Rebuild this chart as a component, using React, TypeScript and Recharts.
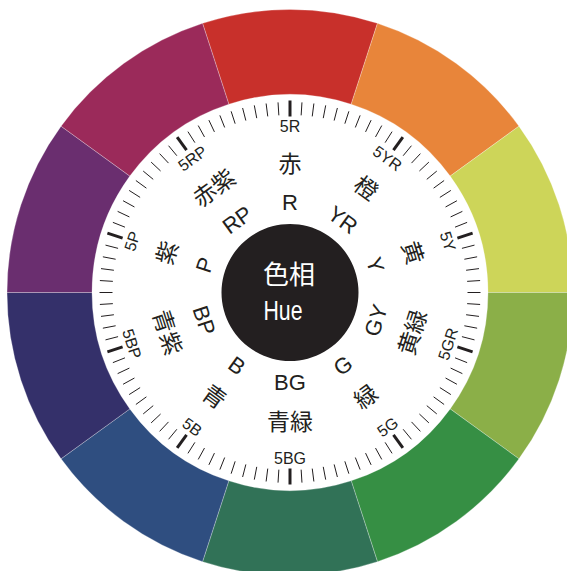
import React from 'react';
import { PieChart, Pie, Cell } from 'recharts';

// ---- data ----
const hueNames = ['R', 'YR', 'Y', 'GY', 'G', 'BG', 'B', 'BP', 'P', 'RP'];
const hueTickLabels = ['5R', '5YR', '5Y', '5GR', '5G', '5BG', '5B', '5BP', '5P', '5RP'];
const hueJapanese = ['赤', '橙', '黄', '黄緑', '緑', '青緑', '青', '青紫', '紫', '赤紫'];
const hueColors = ['#c8302b', '#e8853a', '#cdd559', '#8baf48', '#368f44', '#317257', '#2f4e80', '#34306a', '#6a2e6f', '#9b2a5a'];
const hueSteps = [1, 2, 3, 4, 5, 6, 7, 8, 9, 10];
const centerTitle = ['色相', 'Hue'];

const hueData = hueNames.map((name, i) => ({ name, value: 1, color: hueColors[i] }));
const tickData = hueNames.flatMap((name) => hueSteps.map((step) => ({ name: `${step}${name}`, step, value: 1 })));
const centerData = [{ name: centerTitle[1], value: 1 }];

// ---- layout ----
const W = 567;
const H = 571;
const CX = 290;
const CY = 292.5;
const INK = '#231f20';
const LATIN = '"Liberation Sans", Arial, Helvetica, sans-serif';
const CJK = '"Noto Sans CJK JP", "Noto Sans CJK SC", sans-serif';
const RAD = Math.PI / 180;

const polar = (cx: number, cy: number, r: number, angle: number) => ({
  x: cx + Math.cos(-angle * RAD) * r,
  y: cy + Math.sin(-angle * RAD) * r,
});

const textRotation = (midAngle: number) => {
  let t = (((90 - midAngle) % 360) + 360) % 360;
  if (t > 90 && t < 270) t -= 180;
  else if (t >= 270) t -= 360;
  return t;
};

const makeRingLabel = (radius: number, fontSize: number, family: string, texts: string[]) => (props: any) => {
  const { cx, cy, midAngle, index } = props;
  const p = polar(cx, cy, radius, midAngle);
  const rot = textRotation(midAngle);
  return (
    <text
      key={`l-${radius}-${index}`}
      x={p.x}
      y={p.y}
      dy="0.36em"
      transform={`rotate(${rot} ${p.x} ${p.y})`}
      textAnchor="middle"
      fontSize={fontSize}
      fontFamily={family}
      fill={INK}
    >
      {texts[index]}
    </text>
  );
};

const renderTick = (props: any) => {
  const { cx, cy, midAngle, index } = props;
  const major = tickData[index].step === 5;
  const a = polar(cx, cy, major ? 176 : 177.5, midAngle);
  const b = polar(cx, cy, major ? 192 : 190.5, midAngle);
  return (
    <line
      key={`t-${index}`}
      x1={a.x}
      y1={a.y}
      x2={b.x}
      y2={b.y}
      stroke={INK}
      strokeWidth={major ? 3 : 1}
    />
  );
};

const renderCenter = (props: any) => {
  const { cx, cy } = props;
  return (
    <g key="center">
      <text x={cx - 27} y={cy - 17.5} dy="0.36em" fontSize={26} fontFamily={CJK} fill="#ffffff">
        {centerTitle[0]}
      </text>
      <text
        x={cx - 26.5}
        y={cy + 27.5}
        fontSize={28.5}
        fontFamily={LATIN}
        fill="#ffffff"
        textLength={39}
        lengthAdjust="spacingAndGlyphs"
      >
        {centerTitle[1]}
      </text>
    </g>
  );
};

export default function App() {
  return (
    <div style={{ position: 'absolute', left: 0, top: 0, width: W, height: H, background: '#ffffff', overflow: 'hidden' }}>
      <PieChart width={W} height={H} margin={{ top: 0, right: 0, bottom: 0, left: 0 }}>
        <Pie
          data={hueData}
          dataKey="value"
          cx={CX}
          cy={CY}
          innerRadius={198}
          outerRadius={283}
          startAngle={108}
          endAngle={-252}
          stroke="rgba(255,255,255,0.45)"
          strokeWidth={0.6}
          isAnimationActive={false}
        >
          {hueData.map((d) => (
            <Cell key={d.name} fill={d.color} />
          ))}
        </Pie>
        <Pie
          data={tickData}
          dataKey="value"
          cx={CX}
          cy={CY}
          innerRadius={177}
          outerRadius={191}
          startAngle={106.2}
          endAngle={-253.8}
          fill="none"
          stroke="none"
          label={renderTick}
          labelLine={false}
          isAnimationActive={false}
        />
        <Pie
          data={hueData}
          dataKey="value"
          cx={CX}
          cy={CY}
          innerRadius={80}
          outerRadius={170}
          startAngle={108}
          endAngle={-252}
          fill="none"
          stroke="none"
          label={makeRingLabel(166, 16, LATIN, hueTickLabels)}
          labelLine={false}
          isAnimationActive={false}
        />
        <Pie
          data={hueData}
          dataKey="value"
          cx={CX}
          cy={CY}
          innerRadius={80}
          outerRadius={170}
          startAngle={108}
          endAngle={-252}
          fill="none"
          stroke="none"
          label={makeRingLabel(129, 23, CJK, hueJapanese)}
          labelLine={false}
          isAnimationActive={false}
        />
        <Pie
          data={hueData}
          dataKey="value"
          cx={CX}
          cy={CY}
          innerRadius={80}
          outerRadius={170}
          startAngle={108}
          endAngle={-252}
          fill="none"
          stroke="none"
          label={makeRingLabel(90, 22, LATIN, hueNames)}
          labelLine={false}
          isAnimationActive={false}
        />
        <Pie
          data={centerData}
          dataKey="value"
          cx={CX}
          cy={CY}
          innerRadius={0}
          outerRadius={68.5}
          startAngle={90}
          endAngle={-270}
          fill={INK}
          stroke="none"
          label={renderCenter}
          labelLine={false}
          isAnimationActive={false}
        />
      </PieChart>
    </div>
  );
}
